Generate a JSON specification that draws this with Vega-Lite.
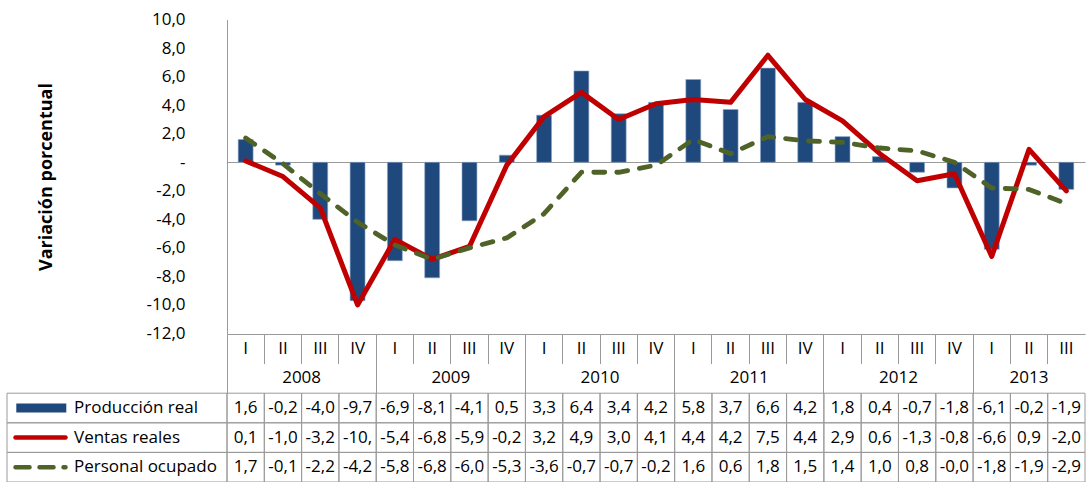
{
  "$schema": "https://vega.github.io/schema/vega-lite/v6.json",
  "width": 1089,
  "height": 482,
  "autosize": "none",
  "padding": 0,
  "background": "white",
  "config": {
    "locale": {"number": {"decimal": ",", "thousands": ".", "grouping": [3], "currency": ["", ""], "minus": "-"}},
    "view": {"stroke": null},
    "font": "Open Sans",
    "text": {"font": "Open Sans", "fontSize": 17, "color": "#000000"}
  },
  "datasets": {
    "series": [
      {"q": "2008-I", "serie": "Producción real", "v": 1.6},
      {"q": "2008-II", "serie": "Producción real", "v": -0.2},
      {"q": "2008-III", "serie": "Producción real", "v": -4.0},
      {"q": "2008-IV", "serie": "Producción real", "v": -9.7},
      {"q": "2009-I", "serie": "Producción real", "v": -6.9},
      {"q": "2009-II", "serie": "Producción real", "v": -8.1},
      {"q": "2009-III", "serie": "Producción real", "v": -4.1},
      {"q": "2009-IV", "serie": "Producción real", "v": 0.5},
      {"q": "2010-I", "serie": "Producción real", "v": 3.3},
      {"q": "2010-II", "serie": "Producción real", "v": 6.4},
      {"q": "2010-III", "serie": "Producción real", "v": 3.4},
      {"q": "2010-IV", "serie": "Producción real", "v": 4.2},
      {"q": "2011-I", "serie": "Producción real", "v": 5.8},
      {"q": "2011-II", "serie": "Producción real", "v": 3.7},
      {"q": "2011-III", "serie": "Producción real", "v": 6.6},
      {"q": "2011-IV", "serie": "Producción real", "v": 4.2},
      {"q": "2012-I", "serie": "Producción real", "v": 1.8},
      {"q": "2012-II", "serie": "Producción real", "v": 0.4},
      {"q": "2012-III", "serie": "Producción real", "v": -0.7},
      {"q": "2012-IV", "serie": "Producción real", "v": -1.8},
      {"q": "2013-I", "serie": "Producción real", "v": -6.1},
      {"q": "2013-II", "serie": "Producción real", "v": -0.2},
      {"q": "2013-III", "serie": "Producción real", "v": -1.9},
      {"q": "2008-I", "serie": "Ventas reales", "v": 0.1},
      {"q": "2008-II", "serie": "Ventas reales", "v": -1.0},
      {"q": "2008-III", "serie": "Ventas reales", "v": -3.2},
      {"q": "2008-IV", "serie": "Ventas reales", "v": -10.0},
      {"q": "2009-I", "serie": "Ventas reales", "v": -5.4},
      {"q": "2009-II", "serie": "Ventas reales", "v": -6.8},
      {"q": "2009-III", "serie": "Ventas reales", "v": -5.9},
      {"q": "2009-IV", "serie": "Ventas reales", "v": -0.2},
      {"q": "2010-I", "serie": "Ventas reales", "v": 3.2},
      {"q": "2010-II", "serie": "Ventas reales", "v": 4.9},
      {"q": "2010-III", "serie": "Ventas reales", "v": 3.0},
      {"q": "2010-IV", "serie": "Ventas reales", "v": 4.1},
      {"q": "2011-I", "serie": "Ventas reales", "v": 4.4},
      {"q": "2011-II", "serie": "Ventas reales", "v": 4.2},
      {"q": "2011-III", "serie": "Ventas reales", "v": 7.5},
      {"q": "2011-IV", "serie": "Ventas reales", "v": 4.4},
      {"q": "2012-I", "serie": "Ventas reales", "v": 2.9},
      {"q": "2012-II", "serie": "Ventas reales", "v": 0.6},
      {"q": "2012-III", "serie": "Ventas reales", "v": -1.3},
      {"q": "2012-IV", "serie": "Ventas reales", "v": -0.8},
      {"q": "2013-I", "serie": "Ventas reales", "v": -6.6},
      {"q": "2013-II", "serie": "Ventas reales", "v": 0.9},
      {"q": "2013-III", "serie": "Ventas reales", "v": -2.0},
      {"q": "2008-I", "serie": "Personal ocupado", "v": 1.7},
      {"q": "2008-II", "serie": "Personal ocupado", "v": -0.1},
      {"q": "2008-III", "serie": "Personal ocupado", "v": -2.2},
      {"q": "2008-IV", "serie": "Personal ocupado", "v": -4.2},
      {"q": "2009-I", "serie": "Personal ocupado", "v": -5.8},
      {"q": "2009-II", "serie": "Personal ocupado", "v": -6.8},
      {"q": "2009-III", "serie": "Personal ocupado", "v": -6.0},
      {"q": "2009-IV", "serie": "Personal ocupado", "v": -5.3},
      {"q": "2010-I", "serie": "Personal ocupado", "v": -3.6},
      {"q": "2010-II", "serie": "Personal ocupado", "v": -0.7},
      {"q": "2010-III", "serie": "Personal ocupado", "v": -0.7},
      {"q": "2010-IV", "serie": "Personal ocupado", "v": -0.2},
      {"q": "2011-I", "serie": "Personal ocupado", "v": 1.6},
      {"q": "2011-II", "serie": "Personal ocupado", "v": 0.6},
      {"q": "2011-III", "serie": "Personal ocupado", "v": 1.8},
      {"q": "2011-IV", "serie": "Personal ocupado", "v": 1.5},
      {"q": "2012-I", "serie": "Personal ocupado", "v": 1.4},
      {"q": "2012-II", "serie": "Personal ocupado", "v": 1.0},
      {"q": "2012-III", "serie": "Personal ocupado", "v": 0.8},
      {"q": "2012-IV", "serie": "Personal ocupado", "v": -0.0},
      {"q": "2013-I", "serie": "Personal ocupado", "v": -1.8},
      {"q": "2013-II", "serie": "Personal ocupado", "v": -1.9},
      {"q": "2013-III", "serie": "Personal ocupado", "v": -2.9}
    ],
    "quarters": [
      {"q": "2008-I", "t": "I"}, {"q": "2008-II", "t": "II"}, {"q": "2008-III", "t": "III"}, {"q": "2008-IV", "t": "IV"},
      {"q": "2009-I", "t": "I"}, {"q": "2009-II", "t": "II"}, {"q": "2009-III", "t": "III"}, {"q": "2009-IV", "t": "IV"},
      {"q": "2010-I", "t": "I"}, {"q": "2010-II", "t": "II"}, {"q": "2010-III", "t": "III"}, {"q": "2010-IV", "t": "IV"},
      {"q": "2011-I", "t": "I"}, {"q": "2011-II", "t": "II"}, {"q": "2011-III", "t": "III"}, {"q": "2011-IV", "t": "IV"},
      {"q": "2012-I", "t": "I"}, {"q": "2012-II", "t": "II"}, {"q": "2012-III", "t": "III"}, {"q": "2012-IV", "t": "IV"},
      {"q": "2013-I", "t": "I"}, {"q": "2013-II", "t": "II"}, {"q": "2013-III", "t": "III"}
    ],
    "years": [
      {"year": "2008", "anchor": "2008-III"},
      {"year": "2009", "anchor": "2009-III"},
      {"year": "2010", "anchor": "2010-III"},
      {"year": "2011", "anchor": "2011-III"},
      {"year": "2012", "anchor": "2012-III"},
      {"year": "2013", "anchor": "2013-II"}
    ],
    "legend": [
      {"serie": "Producción real"},
      {"serie": "Ventas reales"},
      {"serie": "Personal ocupado"}
    ]
  },
  "layer": [
    {
      "layer": [
        {
          "data": {"name": "series"},
          "layer": [
            {
              "transform": [{"filter": "datum.serie == 'Producción real'"}],
              "mark": {"type": "bar", "width": {"band": 0.4}, "color": "#1F497D", "stroke": "#8FA8C8", "strokeWidth": 0.6},
              "encoding": {
                "x": {
                  "field": "q", "type": "nominal",
                  "scale": {"domain": ["2008-I","2008-II","2008-III","2008-IV","2009-I","2009-II","2009-III","2009-IV","2010-I","2010-II","2010-III","2010-IV","2011-I","2011-II","2011-III","2011-IV","2012-I","2012-II","2012-III","2012-IV","2013-I","2013-II","2013-III"], "range": [227, 1085], "paddingInner": 0, "paddingOuter": 0},
                  "axis": {"orient": "bottom", "offset": -148, "bandPosition": 0, "ticks": true, "tickSize": 29.6, "tickColor": "#9a9a9a", "domain": true, "domainColor": "#9a9a9a", "labels": false, "title": null, "grid": false}
                },
                "y": {
                  "field": "v", "type": "quantitative",
                  "scale": {"domain": [-12, 10], "range": [333.5, 19.6], "nice": false, "zero": false},
                  "axis": {
                    "orient": "left", "offset": -227,
                    "values": [-12, -10, -8, -6, -4, -2, 0, 2, 4, 6, 8, 10],
                    "format": ".1f",
                    "labelExpr": "datum.value == 0 ? '-' : datum.label",
                    "ticks": false, "labelPadding": 42,
                    "labelFont": "Open Sans", "labelFontSize": 17, "labelColor": "#000000",
                    "domainColor": "#9a9a9a",
                    "title": "Variación porcentual", "titleFont": "Open Sans", "titleFontSize": 18, "titleFontWeight": "bold", "titleColor": "#000000", "titlePadding": 90,
                    "grid": true,
                    "gridColor": {"condition": {"test": "datum.value === 0", "value": "#9a9a9a"}, "value": "transparent"}
                  }
                }
              }
            },
            {
              "transform": [{"filter": "datum.serie == 'Ventas reales'"}],
              "mark": {"type": "line", "color": "#C00000", "strokeWidth": 5, "strokeJoin": "round", "strokeCap": "round"},
              "encoding": {
                "x": {"field": "q", "type": "nominal"},
                "y": {"field": "v", "type": "quantitative"}
              }
            },
            {
              "transform": [{"filter": "datum.serie == 'Personal ocupado'"}],
              "mark": {"type": "line", "color": "#4F6228", "strokeWidth": 4.8, "strokeJoin": "round", "strokeCap": "round", "strokeDash": [11, 12]},
              "encoding": {
                "x": {"field": "q", "type": "nominal"},
                "y": {"field": "v", "type": "quantitative"}
              }
            }
          ]
        },
        {
          "layer": [
            {
              "data": {"name": "series"},
              "mark": {"type": "rect", "filled": false, "color": "#9a9a9a", "strokeWidth": 1},
              "encoding": {
                "x": {
                  "field": "q", "type": "nominal",
                  "scale": {"domain": ["2008-I","2008-II","2008-III","2008-IV","2009-I","2009-II","2009-III","2009-IV","2010-I","2010-II","2010-III","2010-IV","2011-I","2011-II","2011-III","2011-IV","2012-I","2012-II","2012-III","2012-IV","2013-I","2013-II","2013-III"], "range": [227, 1085], "paddingInner": 0, "paddingOuter": 0},
                  "axis": {"orient": "bottom", "offset": -148, "bandPosition": 0, "values": ["2008-I","2009-I","2010-I","2011-I","2012-I","2013-I"], "ticks": true, "tickSize": 59.2, "tickColor": "#9a9a9a", "domain": false, "labels": false, "title": null, "grid": false}
                },
                "y": {
                  "field": "serie", "type": "nominal",
                  "scale": {"domain": ["hq", "hy", "Producción real", "Ventas reales", "Personal ocupado"], "range": [334, 482], "paddingInner": 0, "paddingOuter": 0},
                  "axis": null
                }
              }
            },
            {
              "data": {"name": "series"},
              "mark": {"type": "text", "limit": 35, "ellipsis": "\u200b", "baseline": "middle"},
              "encoding": {
                "x": {"field": "q", "type": "nominal"},
                "y": {"field": "serie", "type": "nominal", "axis": null},
                "text": {
                  "condition": {"test": "datum.v === 0 && 1 / datum.v < 0", "value": "-0,0"},
                  "field": "v", "type": "quantitative", "format": ".1f"
                }
              }
            },
            {
              "data": {"name": "quarters"},
              "mark": {"type": "text", "baseline": "middle"},
              "encoding": {
                "x": {"field": "q", "type": "nominal"},
                "y": {"datum": "hq", "type": "nominal", "axis": null},
                "text": {"field": "t"}
              }
            },
            {
              "data": {"name": "years"},
              "transform": [{"filter": "datum.year != '2013'"}],
              "mark": {"type": "text", "baseline": "middle"},
              "encoding": {
                "x": {"field": "anchor", "type": "nominal", "bandPosition": 0},
                "y": {"datum": "hy", "type": "nominal", "axis": null},
                "text": {"field": "year"}
              }
            },
            {
              "data": {"name": "years"},
              "transform": [{"filter": "datum.year == '2013'"}],
              "mark": {"type": "text", "baseline": "middle"},
              "encoding": {
                "x": {"field": "anchor", "type": "nominal"},
                "y": {"datum": "hy", "type": "nominal", "axis": null},
                "text": {"field": "year"}
              }
            }
          ]
        }
      ],
      "resolve": {"scale": {"y": "independent"}, "axis": {"x": "independent", "y": "independent"}}
    },
    {
      "data": {"name": "legend"},
      "layer": [
        {
          "mark": {"type": "rect", "filled": false, "color": "#9a9a9a", "strokeWidth": 1},
          "encoding": {
            "x": {"datum": "leg", "type": "nominal", "scale": {"domain": ["leg"], "range": [7, 227], "paddingInner": 0, "paddingOuter": 0}, "axis": null},
            "y": {"field": "serie", "type": "nominal", "scale": {"domain": ["hq", "hy", "Producción real", "Ventas reales", "Personal ocupado"], "range": [334, 482], "paddingInner": 0, "paddingOuter": 0}, "axis": null}
          }
        },
        {
          "transform": [{"filter": "datum.serie == 'Producción real'"}],
          "mark": {"type": "point", "shape": "M-1,-0.18H1V0.18H-1Z", "size": 2500, "filled": true, "opacity": 1, "color": "#1F497D", "xOffset": -75.7},
          "encoding": {
            "x": {"datum": "leg", "type": "nominal"},
            "y": {"field": "serie", "type": "nominal"}
          }
        },
        {
          "transform": [{"filter": "datum.serie == 'Ventas reales'"}],
          "mark": {"type": "point", "shape": "M-1,0H1", "size": 2500, "filled": false, "opacity": 1, "color": "#C00000", "strokeWidth": 4.5, "strokeCap": "round", "xOffset": -76.5},
          "encoding": {
            "x": {"datum": "leg", "type": "nominal"},
            "y": {"field": "serie", "type": "nominal"}
          }
        },
        {
          "transform": [{"filter": "datum.serie == 'Personal ocupado'"}],
          "mark": {"type": "point", "shape": "M-1,0H1", "size": 2500, "filled": false, "opacity": 1, "color": "#4F6228", "strokeWidth": 4.5, "strokeCap": "round", "strokeDash": [14, 10], "xOffset": -76.5},
          "encoding": {
            "x": {"datum": "leg", "type": "nominal"},
            "y": {"field": "serie", "type": "nominal"}
          }
        },
        {
          "mark": {"type": "text", "align": "left", "baseline": "middle", "dx": -43},
          "encoding": {
            "x": {"datum": "leg", "type": "nominal"},
            "y": {"field": "serie", "type": "nominal"},
            "text": {"field": "serie"}
          }
        }
      ]
    }
  ],
  "resolve": {"scale": {"x": "independent", "y": "independent"}}
}
